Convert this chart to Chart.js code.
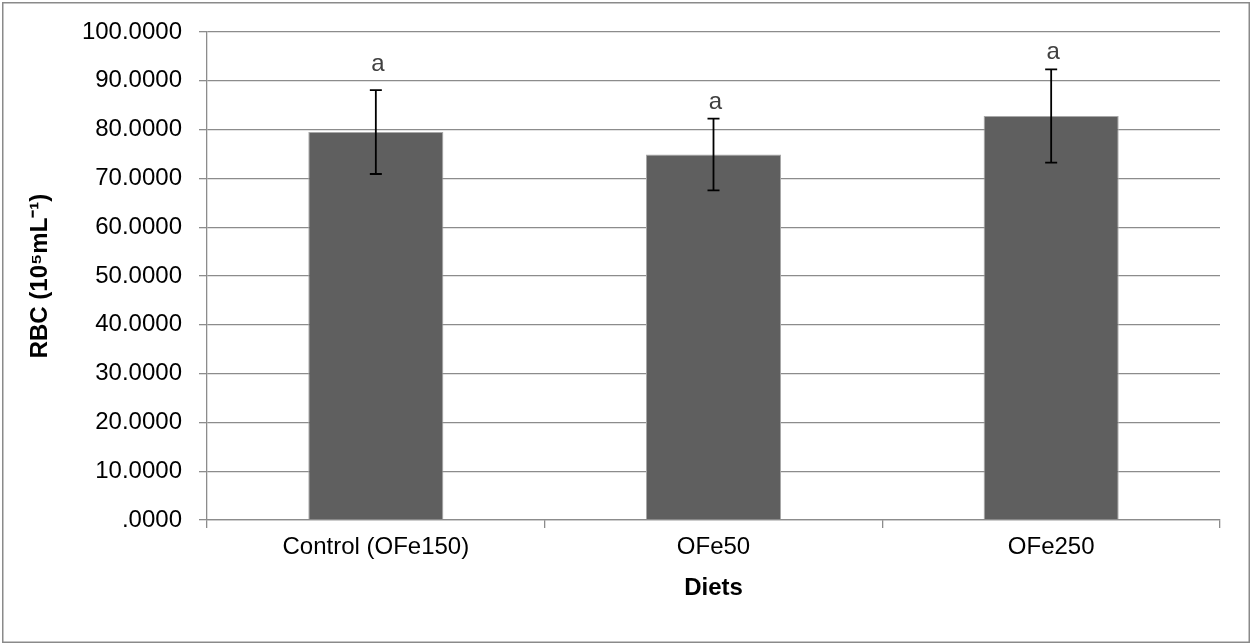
<!DOCTYPE html>
<html>
<head>
<meta charset="utf-8">
<script src="https://cdn.jsdelivr.net/npm/chart.js@4.4.1/dist/chart.umd.min.js"></script>
<style>
  html, body { margin: 0; padding: 0; background: #fff; }
  #wrap { width: 1251px; height: 644px; position: relative; }
</style>
</head>
<body>
<div id="wrap"><canvas id="rbcChart" width="1251" height="644"></canvas></div>
<script>
// data
const diets = ['Control (OFe150)', 'OFe50', 'OFe250'];
const rbcMeans = [79.5, 74.9, 82.8];
const rbcSd = [8.6, 7.35, 9.55];
const sigLetters = ['a', 'a', 'a'];
const letterAt = [92.1, 84.2, 94.5];

const yTicks = [0, 10, 20, 30, 40, 50, 60, 70, 80, 90, 100];

const AXIS_GRAY = '#8c8c8c';
const FONT = "'Liberation Sans', Arial, sans-serif";
const FONT_SIZE = 24;

/**
 * Gray frame round the whole chart (Excel chart area border)
 */
const frame = {
    id: 'frame',
    beforeDraw(chart) {
        const ctx = chart.ctx;
        ctx.save();
        ctx.fillStyle = '#fff';
        ctx.fillRect(0, 0, chart.width, chart.height);
        ctx.strokeStyle = '#8a8a8a';
        ctx.lineWidth = 1.5;
        ctx.strokeRect(2.75, 2.75, chart.width - 4.5, chart.height - 4.5);
        ctx.restore();
    },
};

/**
 * Error bars and significance letters, positioned through the y scale
 */
const errorBars = {
    id: 'errorBars',
    afterDatasetsDraw(chart) {
        const ctx = chart.ctx;
        const y = chart.scales.y;
        const meta = chart.getDatasetMeta(0);
        ctx.save();
        meta.data.forEach((bar, i) => {
            const x = bar.x;
            const hi = y.getPixelForValue(rbcMeans[i] + rbcSd[i]);
            const lo = y.getPixelForValue(rbcMeans[i] - rbcSd[i]);
            ctx.strokeStyle = '#000';
            ctx.lineWidth = 1.8;
            ctx.beginPath();
            ctx.moveTo(x, hi);
            ctx.lineTo(x, lo);
            ctx.moveTo(x - 6, hi);
            ctx.lineTo(x + 6, hi);
            ctx.moveTo(x - 6, lo);
            ctx.lineTo(x + 6, lo);
            ctx.stroke();

            ctx.fillStyle = '#404040';
            ctx.font = FONT_SIZE + 'px ' + FONT;
            ctx.textAlign = 'center';
            ctx.textBaseline = 'alphabetic';
            ctx.fillText(sigLetters[i], x + 2, y.getPixelForValue(letterAt[i]));
        });
        ctx.restore();
    },
};

new Chart(document.getElementById('rbcChart'), {
    type: 'bar',
    data: {
        labels: diets,
        datasets: [{
            label: 'RBC',
            data: rbcMeans,
            backgroundColor: '#5f5f5f',
            borderColor: '#a8a8a8',
            borderWidth: 1,
            categoryPercentage: 1,
            barPercentage: 0.4,
        }],
    },
    options: {
        responsive: false,
        animation: false,
        events: [],
        layout: {
            padding: { top: 32, right: 31, left: 0, bottom: 0 },
        },
        plugins: {
            legend: { display: false },
            tooltip: { enabled: false },
        },
        scales: {
            x: {
                afterFit(scale) { scale.height = 124; },
                grid: {
                    display: true,
                    drawOnChartArea: false,
                    offset: true,
                    tickLength: 8,
                    color: AXIS_GRAY,
                    lineWidth: 1.3,
                },
                border: { display: true, color: AXIS_GRAY, width: 1.3 },
                ticks: {
                    padding: 4.6,
                    color: '#000',
                    font: { family: FONT, size: FONT_SIZE },
                },
                title: {
                    display: true,
                    text: 'Diets',
                    color: '#000',
                    font: { family: FONT, size: FONT_SIZE, weight: 'bold' },
                    padding: { top: 0, bottom: 41.6 },
                },
            },
            y: {
                min: 0,
                max: 100,
                afterFit(scale) { scale.width = 207; },
                afterBuildTicks(scale) {
                    scale.ticks = yTicks.map(v => ({ value: v }));
                },
                grid: {
                    color: AXIS_GRAY,
                    lineWidth: 1.3,
                    tickLength: 8,
                },
                border: { display: true, color: AXIS_GRAY, width: 1.3 },
                ticks: {
                    padding: 17,
                    color: '#000',
                    font: { family: FONT, size: FONT_SIZE },
                    callback: (v) => (v === 0 ? '.0000' : v.toFixed(4)),
                },
                title: {
                    display: true,
                    text: 'RBC (10⁵mL⁻¹)',
                    color: '#000',
                    font: { family: FONT, size: FONT_SIZE, weight: 'bold' },
                    padding: { top: 25.6, bottom: 0 },
                },
            },
        },
    },
    plugins: [frame, errorBars],
});
</script>
</body>
</html>
